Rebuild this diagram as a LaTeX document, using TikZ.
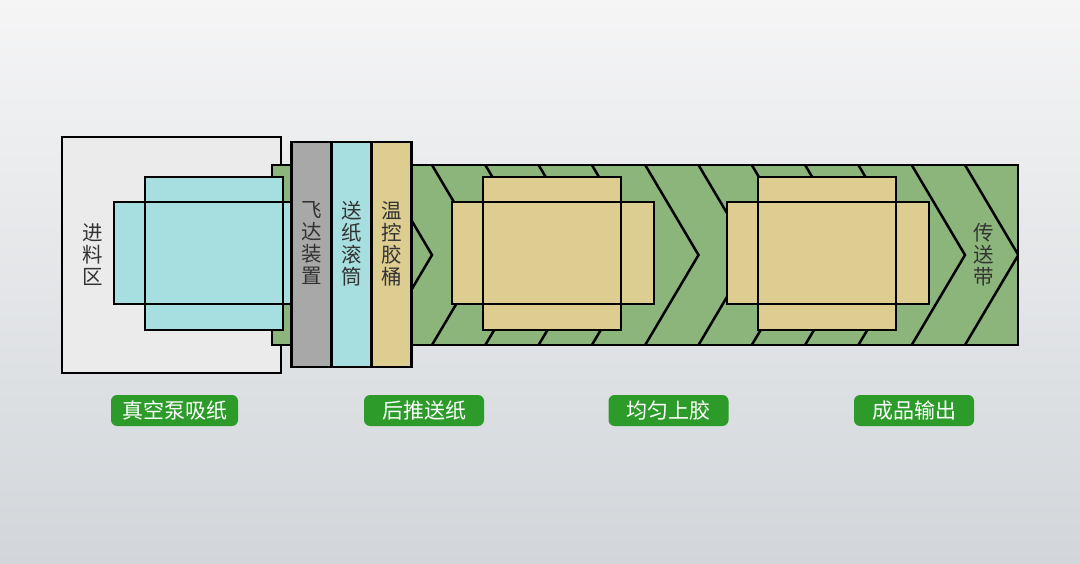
\documentclass[tikz,border=0pt]{standalone}
\usepackage{fontspec}
\setmainfont{Noto Sans CJK SC}
\usepackage{xcolor}
\usetikzlibrary{positioning}

\definecolor{bgTop}{HTML}{F5F5F6}
\definecolor{bgBot}{HTML}{D2D6DA}
\definecolor{feedGray}{HTML}{EBEBEB}
\definecolor{beltGreen}{HTML}{8CB57B}
\definecolor{paperCyan}{HTML}{A7DFE0}
\definecolor{paperTan}{HTML}{DDCD90}
\definecolor{barGray}{HTML}{A8A8A8}
\definecolor{tagGreen}{HTML}{2C9B2A}
\definecolor{txtGray}{HTML}{333333}

\begin{document}
\begin{tikzpicture}[
    x=1pt, y=-1pt,
    outline/.style={draw=black, line width=2.7pt},
    bar/.style={outline, minimum width=40pt, minimum height=225pt, inner sep=0pt, outer sep=0pt},
    vlabel/.style={text=txtGray, align=center, inner sep=0pt, font=\fontsize{20.5}{22}\selectfont},
    chev/.style={black, line width=2.5pt},
    tag/.style={fill=tagGreen, text=white, rounded corners=6pt, minimum width=120pt, minimum height=31pt, inner xsep=11pt, font=\fontsize{21}{24}\selectfont},
]
% Background
\shade[top color=bgTop, bottom color=bgBot] (0,0) rectangle (1080,564);
\useasboundingbox (0,0) rectangle (1080,564);

% Feed area
\draw[outline, line width=2pt, fill=feedGray] (62,137) rectangle (281,373);
\node[vlabel] (jinliao) at (93,255) {进\\料\\区};

% Conveyor belt
\draw[outline, fill=beltGreen] (272,165) rectangle (1018,345);

% Paper in the feed area
\fill[paperCyan] (145,177) rectangle (283,330);
\fill[paperCyan] (114,202) rectangle (314,304);
\draw[outline] (145,177) rectangle (283,330);
\draw[outline] (114,202) rectangle (314,304);

% Feeder, roller, glue tank
\node[bar, fill=barGray] (feida) at (311.5,254.5) {};
\node[bar, fill=paperCyan, right=0pt of feida] (guntong) {};
\node[bar, fill=paperTan, right=0pt of guntong] (jiaotong) {};
\node[vlabel] (feidaTxt) at ([yshift=11pt]feida.center) {飞\\达\\装\\置};
\node[vlabel] (guntongTxt) at ([yshift=11pt]guntong.center) {送\\纸\\滚\\筒};
\node[vlabel] (jiaotongTxt) at ([yshift=11pt]jiaotong.center) {温\\控\\胶\\桶};

% Chevrons on the belt
\begin{scope}
  \clip (411,165) rectangle (1018,345);
  \foreach \k in {0,...,11}
    \draw[chev] ({378.7+53.3*\k},165) -- ++(53.3,90) -- ++(-53.3,90);
\end{scope}
\draw[outline] (411,165) rectangle (1018,345);
\node[vlabel] (chuansong) at (984,255) {传\\送\\带};

% Glued sheets
\foreach \cx in {552,827} {
  \fill[paperTan] (\cx-69,177) rectangle (\cx+69,330);
  \fill[paperTan] (\cx-100,202) rectangle (\cx+102,304);
  \draw[outline] (\cx-69,177) rectangle (\cx+69,330);
  \draw[outline] (\cx-100,202) rectangle (\cx+102,304);
}

% Step tags
\node[tag] (xizhi) at (174.5,410.5) {真空泵吸纸};
\node[tag] (tuisong) at (424,410.5) {后推送纸};
\node[tag] (shangjiao) at (668.5,410.5) {均匀上胶};
\node[tag] (shuchu) at (914,410.5) {成品输出};
\end{tikzpicture}
\end{document}
